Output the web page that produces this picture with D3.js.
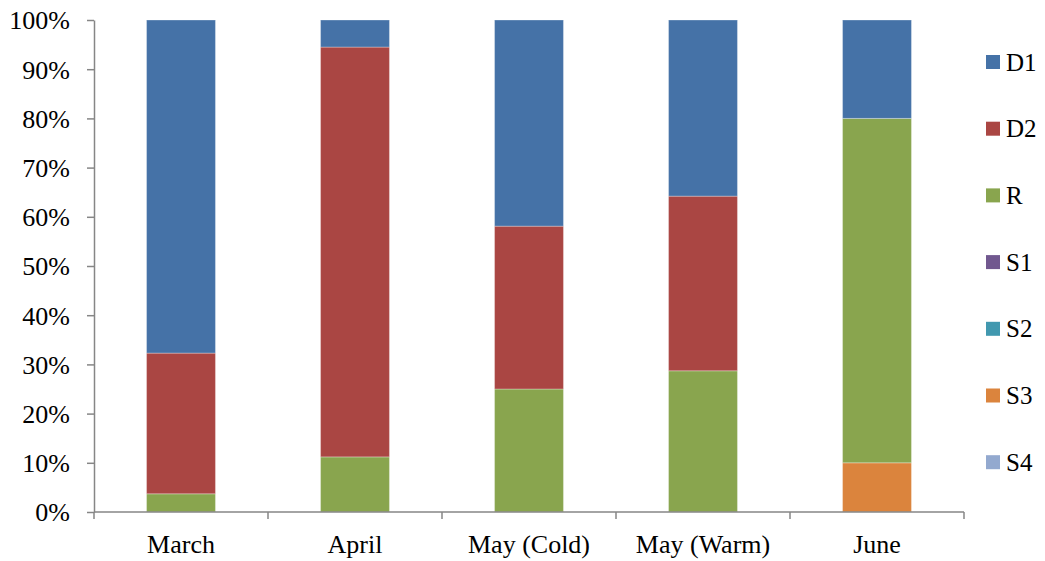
<!DOCTYPE html>
<html>
<head>
<meta charset="utf-8">
<script src="https://cdn.jsdelivr.net/npm/d3@7"></script>
<style>
  html, body { margin: 0; padding: 0; background: #fff; }
  svg { display: block; }
</style>
</head>
<body>
<svg id="chart" width="1045" height="561"></svg>
<script>
// Share of each type per sampling period (percent of total)
const categories = ["March", "April", "May (Cold)", "May (Warm)", "June"];
const seriesNames = ["D1", "D2", "R", "S1", "S2", "S3", "S4"];
const D1 = [67.7, 5.5, 41.9, 35.8, 20.0];
const D2 = [28.6, 83.3, 33.1, 35.5, 0.0];
const R  = [3.7, 11.2, 25.0, 28.7, 70.0];
const S1 = [0, 0, 0, 0, 0];
const S2 = [0, 0, 0, 0, 0];
const S3 = [0, 0, 0, 0, 10.0];
const S4 = [0, 0, 0, 0, 0];
const yTicks = [0, 10, 20, 30, 40, 50, 60, 70, 80, 90, 100];
const colors = ["#4572A7", "#AA4643", "#89A54E", "#71588F", "#4198AF", "#DB843D", "#93A9CF"];

const seriesValues = { D1, D2, R, S1, S2, S3, S4 };
const FONT = '"Liberation Serif"';
const AXIS_FONT_SIZE = "26px";
const LEGEND_FONT_SIZE = "25px";

// Rows for the stack: one per category
const rows = categories.map((c, i) => {
  const row = { category: c };
  seriesNames.forEach(s => { row[s] = seriesValues[s][i]; });
  return row;
});

// Stack from the bottom: S4 ... D1 (D1 ends on top)
const stackOrder = seriesNames.slice().reverse();
const stacked = d3.stack().keys(stackOrder)(rows);

const svg = d3.select("#chart");
const margin = { left: 94, top: 20, right: 81, bottom: 49 };
const W = 1045, H = 561;
const plotW = W - margin.left - margin.right;
const plotH = H - margin.top - margin.bottom;

const x = d3.scaleBand().domain(categories).range([margin.left, margin.left + plotW]).paddingInner(0.604).paddingOuter(0.302);
const y = d3.scaleLinear().domain([0, 100]).range([margin.top + plotH, margin.top]);
const color = d3.scaleOrdinal().domain(seriesNames).range(colors);

// Bars
svg.append("g").selectAll("g")
  .data(stacked)
  .join("g")
  .attr("fill", d => color(d.key))
  .selectAll("rect")
  .data(d => d.filter(p => p[1] - p[0] > 0))
  .join("rect")
  .attr("x", d => x(d.data.category))
  .attr("y", d => y(d[1]))
  .attr("width", x.bandwidth())
  .attr("height", d => y(d[0]) - y(d[1]))
  .attr("stroke", "#fff")
  .attr("stroke-opacity", 0.3)
  .attr("stroke-width", 1);

const axisColor = "#868686";

// Y axis
const yAxis = svg.append("g")
  .attr("transform", `translate(${margin.left},0)`)
  .call(d3.axisLeft(y).tickValues(yTicks).tickFormat(d => d + "%").tickSize(7).tickSizeOuter(0).tickPadding(17));
yAxis.select(".domain").attr("stroke", axisColor).attr("stroke-width", 1.5);
yAxis.selectAll(".tick line").attr("stroke", axisColor).attr("stroke-width", 1.5);
yAxis.selectAll(".tick text")
  .attr("fill", "#000")
  .attr("dy", "0.34em")
  .style("font-family", FONT)
  .style("font-size", AXIS_FONT_SIZE);

// X axis: ticks between categories
const xBoundaries = d3.range(categories.length + 1).map(i => margin.left + i * x.step());
const xg = svg.append("g");
xg.append("line")
  .attr("x1", margin.left).attr("x2", margin.left + plotW)
  .attr("y1", y(0)).attr("y2", y(0))
  .attr("stroke", axisColor).attr("stroke-width", 1.5);
xg.selectAll("line.tick")
  .data(xBoundaries)
  .join("line")
  .attr("class", "tick")
  .attr("x1", d => d).attr("x2", d => d)
  .attr("y1", y(0)).attr("y2", y(0) + 7)
  .attr("stroke", axisColor).attr("stroke-width", 1.5);
xg.selectAll("text")
  .data(categories)
  .join("text")
  .attr("x", d => x(d) + x.bandwidth() / 2)
  .attr("y", 553)
  .attr("text-anchor", "middle")
  .style("font-family", FONT)
  .style("font-size", AXIS_FONT_SIZE)
  .text(d => d);

// Legend
const legend = svg.append("g").attr("transform", "translate(986,0)");
const items = legend.selectAll("g")
  .data(seriesNames)
  .join("g")
  .attr("transform", (d, i) => `translate(0,${62 + i * 66.7})`);
items.append("rect")
  .attr("x", 0).attr("y", -7)
  .attr("width", 14).attr("height", 14)
  .attr("fill", d => color(d));
items.append("text")
  .attr("x", 20).attr("y", 0).attr("dy", "0.34em")
  .style("font-family", FONT)
  .style("font-size", LEGEND_FONT_SIZE)
  .text(d => d);
</script>
</body>
</html>
